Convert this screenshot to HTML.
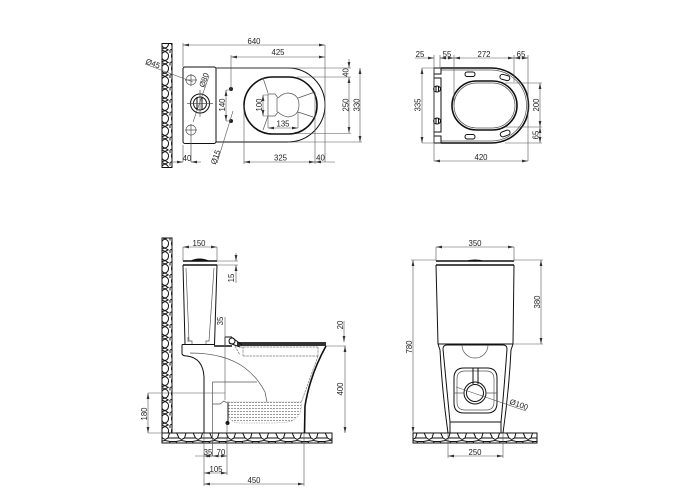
<!DOCTYPE html>
<html><head><meta charset="utf-8"><style>
html,body{margin:0;padding:0;background:#fff}
svg{display:block}
text{font-family:"Liberation Sans",sans-serif;font-size:7.800px;fill:#222;text-anchor:middle}
.d{stroke:#555;stroke-width:.6;fill:none}
.o{stroke:#111;stroke-width:1;fill:none}
.t{stroke:#111;stroke-width:1.600;fill:none}
.i{stroke:#555;stroke-width:.7;fill:none}
.g{stroke:#777;stroke-width:.7;fill:none;stroke-dasharray:2.500 .8}
</style></head><body>
<svg width="700" height="500" viewBox="0 0 700 500" xmlns="http://www.w3.org/2000/svg">
<defs>
<pattern id="w" width="10" height="12.500" patternUnits="userSpaceOnUse">
<rect width="10" height="12.500" fill="#fff"/>
<path d="M5 1.500Q9 3 8.500 6.500Q8 10 5 10.500Q2 10 1.500 6.500Q1 3 5 1.500Z" fill="none" stroke="#111" stroke-width="1"/>
<path d="M0 -1L5 1.500L10 -1M0 12.500L5 10.500L10 13.500M0 0V3M10 0V3" fill="none" stroke="#111" stroke-width="1"/>
</pattern>
<pattern id="f" width="16.500" height="10" patternUnits="userSpaceOnUse">
<rect width="16.500" height="10" fill="#fff"/>
<path d="M5 1.500H11L14 8H3ZM0 9.500L3 8M16.500 9.500L14 8M0 .5L5 1.500M16.500 .5L11 1.500" fill="none" stroke="#111" stroke-width="1"/>
</pattern>
<pattern id="q" width="3" height="3" patternUnits="userSpaceOnUse">
<rect width="2" height="1" fill="#999"/>
</pattern>
<marker id="a" markerWidth="6" markerHeight="4" refX="6" refY="2" orient="auto-start-reverse" markerUnits="userSpaceOnUse"><path d="M0 0.6L6 2L0 3.4Z" fill="#333"/></marker>
</defs>

<!-- TOP LEFT -->
<rect x="162" y="43.500" width="10" height="124" fill="url(#w)" stroke="#111"/>
<path class="o" d="M216 68H288A37 37 0 0 1 288 142H216"/>
<rect class="o" x="183" y="67" width="33" height="76.500" rx="2"/>
<rect class="t" x="244" y="77" width="73" height="57" rx="28.500"/>
<path class="i" d="M263 78L268 93M315 92L298 98M313 117L298 112M263 130L268 116"/>
<path class="i" d="M268 94H275L278 98Q283 93 288 93Q299 94 299 105Q299 116 288 117Q282 116 278 112L275 116H268Z"/>
<path class="i" d="M277 98V112"/>
<circle cx="200" cy="103.500" r="9.500" class="o" stroke-width="1.300"/><circle cx="200" cy="103.500" r="6.500" class="o" stroke-width="1.300"/>
<path class="o" d="M197 97V110M202 97V110"/>
<path class="i" d="M200 90V117M187 103.500H213"/>
<circle class="i" cx="191" cy="80" r="5"/><path class="i" d="M185 80H197M191 74V86"/>
<circle class="i" cx="191" cy="130" r="5"/><path class="i" d="M185 130H197M191 124V162"/>
<circle cx="231" cy="89" r="2" fill="#222"/><circle cx="231" cy="121" r="2" fill="#222"/>
<path class="d" d="M183 67V43M325 45V162M231 55V89M244 105V164M315 92V164M297 77H351M216 68H351M297 133.500H351M288 142H362M226 90H231M226 121H231"/>
<path class="d" marker-start="url(#a)" marker-end="url(#a)" d="M183 45H325"/>
<path class="d" marker-start="url(#a)" marker-end="url(#a)" d="M231 57H325"/>
<path class="d" marker-end="url(#a)" d="M349 59V68"/>
<path class="d" marker-start="url(#a)" marker-end="url(#a)" d="M349 77V133"/>
<path class="d" marker-start="url(#a)" marker-end="url(#a)" d="M360 68V142"/>
<path class="d" marker-start="url(#a)" marker-end="url(#a)" d="M244 162H315"/>
<path class="d" marker-start="url(#a)" d="M315 162H335"/>
<path class="d" marker-start="url(#a)" marker-end="url(#a)" d="M226 90V121"/>
<path class="d" marker-end="url(#a)" d="M173 162H183"/><path class="d" marker-end="url(#a)" d="M201 162H191"/><path class="d" d="M183 145V162"/>
<path class="d" d="M145 64L193 82M193 122L209 76M233 111L217 163"/>
<text x="254" y="44">640</text><text x="278" y="55">425</text>
<text x="187" y="161">40</text><text x="280.500" y="160.500">325</text><text x="320.500" y="160.500">40</text>
<text transform="translate(348.500,72.500) rotate(-90)">40</text>
<text transform="translate(348.500,105) rotate(-90)">250</text>
<text transform="translate(359.500,105) rotate(-90)">330</text>
<text transform="translate(225,105) rotate(-90)">140</text>
<text transform="translate(262,105) rotate(-90)">100</text>
<text x="283" y="126.500">135</text>
<text transform="translate(152,66) rotate(20)">Ø45</text>
<text transform="translate(206.500,81) rotate(-70)">Ø80</text>
<text transform="translate(218,158) rotate(-71)">Ø15</text>
<path class="d" marker-start="url(#a)" marker-end="url(#a)" d="M263 95V116"/><path class="d" d="M263 95H268M263 116H268"/>
<path class="d" marker-start="url(#a)" marker-end="url(#a)" d="M268 128H298"/><path class="d" d="M268 116V128M298 112V128"/>

<!-- TOP RIGHT -->
<path class="t" d="M441 68H491A37.500 37.500 0 0 1 491 143H441"/>
<path class="i" d="M441 70H491A35 35 0 0 1 491 141H441"/>
<rect class="t" x="452" y="81" width="65" height="49" rx="24.500"/>
<rect class="i" x="454" y="83" width="61" height="45" rx="22.500"/>
<path class="o" d="M434 68V143M434 68H441V74H434M434 143H441V136H434M434 78H441V132H434"/>
<ellipse class="o" cx="437" cy="89" rx="3.500" ry="3"/><ellipse class="o" cx="437" cy="121" rx="3.500" ry="3"/>
<path class="o" d="M436 86V92M438.500 86V92M436 118V124M438.500 118V124"/>
<rect class="o" x="465" y="72" width="10" height="4.500" rx="2.200"/><rect class="o" x="465" y="134.500" width="10" height="4.500" rx="2.200"/>
<rect class="o" x="500" y="75" width="10" height="5" rx="2.500" transform="rotate(15 505 77)"/>
<rect class="o" x="500" y="131" width="10" height="5" rx="2.500" transform="rotate(-20 505 133)"/>
<path class="d" d="M434 55V161M440 55V68M454 55V105M514 55V82M528 55V161M422 68H434M422 143H434M505 83H542M505 127H542M505 143H542"/>
<path class="d" marker-start="url(#a)" d="M434 58H415"/>
<path class="d" marker-start="url(#a)" marker-end="url(#a)" d="M440 58H454"/>
<path class="d" marker-start="url(#a)" marker-end="url(#a)" d="M454 58H514"/>
<path class="d" marker-start="url(#a)" marker-end="url(#a)" d="M514 58H528"/>
<path class="d" marker-start="url(#a)" marker-end="url(#a)" d="M422 68V143"/>
<path class="d" marker-start="url(#a)" marker-end="url(#a)" d="M540 83V127"/>
<path class="d" marker-start="url(#a)" marker-end="url(#a)" d="M540 127V143"/>
<path class="d" marker-start="url(#a)" marker-end="url(#a)" d="M434 161H528"/>
<text x="420" y="57">25</text><text x="447" y="57">55</text><text x="484" y="57">272</text><text x="521" y="57">65</text>
<text transform="translate(420.500,105) rotate(-90)">335</text>
<text transform="translate(539,105) rotate(-90)">200</text>
<text transform="translate(538.500,135) rotate(-90)">65</text>
<text x="481" y="160">420</text>

<!-- SIDE VIEW -->
<rect x="162" y="238" width="10" height="195" fill="url(#w)" stroke="#111"/>
<rect x="162" y="433" width="170" height="10" fill="url(#f)" stroke="#111"/>
<path class="t" d="M183 261H217M183 265H217"/>
<path d="M190 261Q199 256 210 261Z" fill="#111"/>
<path class="o" d="M183 265L185 344M217 265L214.500 345"/>
<path class="i" d="M186 268L189 341H192V345M214 268L209 341H206V345"/>
<path class="o" d="M182 344.500H214"/>
<path class="t" d="M214 346H232"/>
<rect x="237" y="342" width="89" height="4" fill="#333"/>
<path class="o" d="M225 337H232M225 337V345"/>
<circle class="o" cx="232" cy="341" r="3" fill="#fff"/>
<path class="o" d="M232 337.500L242 345M229 343L240 347"/>
<path class="o" d="M182 344.500V354Q183 356 187 356Q203 358 204 377V433"/>
<path class="t" d="M326 346Q310 375 305 406L304.500 433"/>
<path class="i" d="M188 337V342M190 353Q225 353 245 368Q258 378 265 392L267 402"/>
<path class="i" d="M212.500 382H257M212.500 382V456"/>
<path class="g" d="M243 347V356M243 356H318M240 347H318M318 347V356M318 356L301 403M235 346L240 355"/>
<path class="i" d="M212.500 404H220L224 401Q226 403 228 402"/>
<path d="M228 402H301Q303 415 292 421Q285 423 270 423H240Q228 423 228 410Z" fill="url(#q)" stroke="#888" stroke-width=".5" stroke-dasharray="1.500 1"/>
<path class="o" d="M228 403V423"/>
<circle cx="227.500" cy="423" r="2" fill="#111"/>
<path class="d" d="M217 261H238M217 265H238M225 317V400M217 247V261M183 247V261M326 346H346M204 433V486M304 433V486M227 423V475M148 433H162M148 393H225M195 456H204"/>
<path class="d" marker-start="url(#a)" marker-end="url(#a)" d="M183 247H217"/>
<path class="d" marker-end="url(#a)" d="M236 253V261"/><path class="d" marker-start="url(#a)" d="M236 265V283"/>
<path class="d" marker-end="url(#a)" d="M344 321V342"/>
<path class="d" marker-start="url(#a)" marker-end="url(#a)" d="M345 346V433"/>
<path class="d" marker-start="url(#a)" marker-end="url(#a)" d="M148 393V433"/>
<path class="d" marker-start="url(#a)" marker-end="url(#a)" d="M204 456H212.500"/>
<path class="d" marker-start="url(#a)" marker-end="url(#a)" d="M212.500 456H227"/>
<path class="d" marker-start="url(#a)" marker-end="url(#a)" d="M204 473H227"/>
<path class="d" marker-start="url(#a)" marker-end="url(#a)" d="M204 484H304"/>
<text x="199" y="246">150</text>
<text transform="translate(234,278) rotate(-90)">15</text>
<text transform="translate(223,321) rotate(-90)">35</text>
<text transform="translate(343,325) rotate(-90)">20</text>
<text transform="translate(343,389) rotate(-90)">400</text>
<text transform="translate(147,414) rotate(-90)">180</text>
<text x="208" y="455">35</text><text x="221" y="455">70</text><text x="216" y="472">105</text><text x="254" y="483">450</text>

<!-- FRONT VIEW -->
<rect x="413" y="433" width="124" height="10" fill="url(#f)" stroke="#111"/>
<path class="t" d="M436 261H514M436 265H514"/>
<path d="M465 261Q475 258 485 261Z" fill="#111"/>
<path class="o" d="M436 265L438 344M514 265L513 344M438 344H513"/>
<path class="o" d="M438 344L440 350Q442 390 448 433M513 344L511 350Q509 390 503 433"/>
<path class="o" d="M443 349Q443 345 447 345H503Q507 345 507 349Q504 390 501 422V433M443 349Q447 390 450 422V433M450 422H501"/>
<path class="i" d="M462 345A13 13 0 0 0 488 345"/>
<path class="o" d="M454 378Q454 368 464 368H487Q497 368 497 378V403Q497 413 487 413H464Q454 413 454 403Z"/>
<path class="i" d="M457 379Q457 371 465 371H486Q494 371 494 379V402Q494 410 486 410H465Q457 410 457 402Z"/>
<path class="o" d="M473 368V384M478 368V384"/>
<circle class="o" cx="475" cy="393" r="11" stroke-width="1.300" fill="#fff"/><circle class="o" cx="475" cy="393" r="8.500"/>
<path class="i" d="M454 393H464M486 393H497"/>
<path class="d" d="M456 387L526 411"/>
<path class="d" d="M436 247V261M514 247V261M411 260H436M514 260H543M513 344H543M448 433V458M503 433V458"/>
<path class="d" marker-start="url(#a)" marker-end="url(#a)" d="M436 247H514"/>
<path class="d" marker-start="url(#a)" marker-end="url(#a)" d="M413 260V433"/>
<path class="d" marker-start="url(#a)" marker-end="url(#a)" d="M541 260V344"/>
<path class="d" marker-start="url(#a)" marker-end="url(#a)" d="M448 456H503"/>
<text x="475" y="246">350</text>
<text transform="translate(412,347) rotate(-90)">780</text>
<text transform="translate(540,302) rotate(-90)">380</text>
<text x="475" y="455">250</text>
<text transform="translate(518,407) rotate(19)">Ø100</text>
</svg>
</body></html>
